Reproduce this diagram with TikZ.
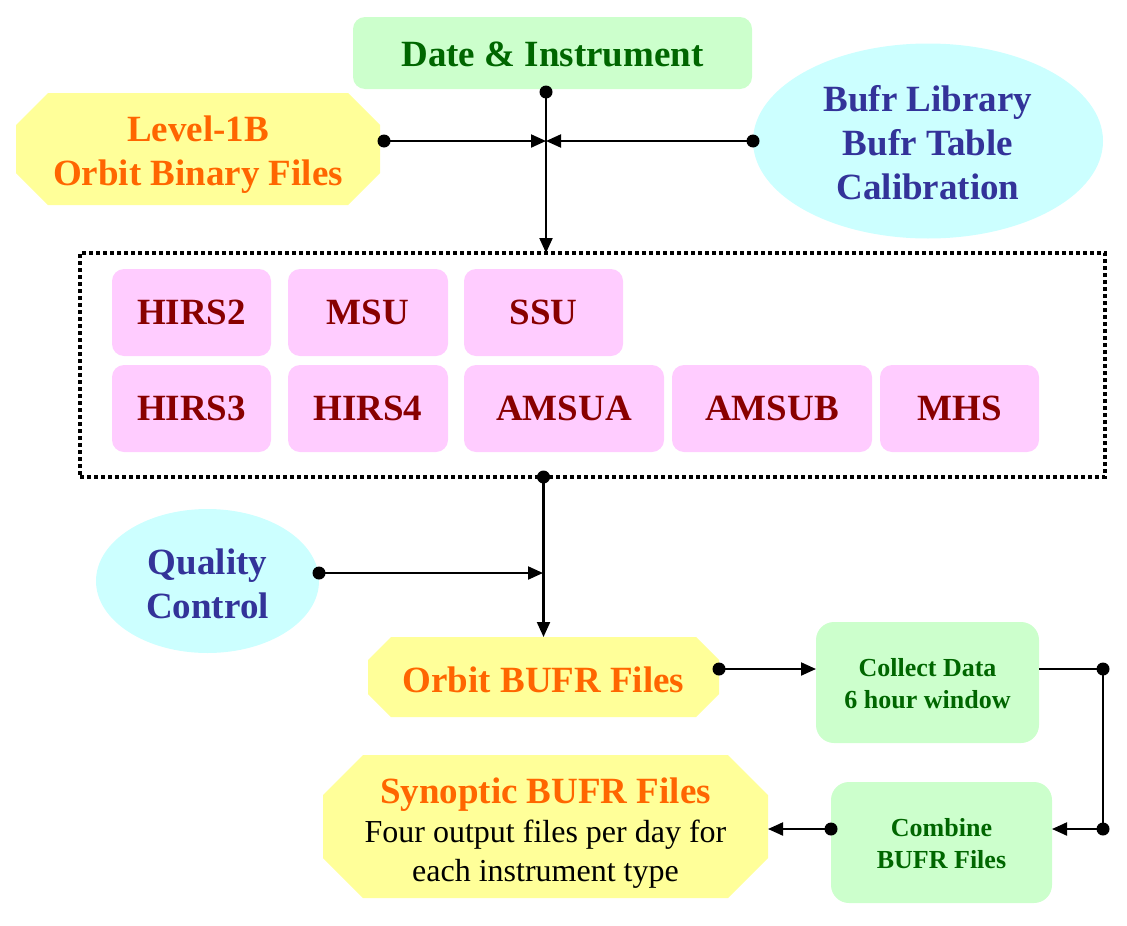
\documentclass[tikz,border=0pt]{standalone}
\usepackage{fontspec}
\setmainfont{Liberation Serif}
\usetikzlibrary{shapes.geometric,arrows.meta,calc,backgrounds}

\definecolor{mintfill}{HTML}{CCFFCC}
\definecolor{leafgreen}{HTML}{006600}
\definecolor{lemon}{HTML}{FFFF99}
\definecolor{tangerine}{HTML}{FF6600}
\definecolor{ice}{HTML}{CCFFFF}
\definecolor{indigoink}{HTML}{333399}
\definecolor{blush}{HTML}{FFCCFF}
\definecolor{maroonink}{HTML}{880000}

% yellow octagon behind a named rectangular node; #2 = corner cut
\newcommand\octfill[2]{%
  \fill[lemon]
    ($(#1.north west)+(#2,0)$) -- ($(#1.north east)+(-#2,0)$) --
    ($(#1.north east)+(0,#2)$) -- ($(#1.south east)+(0,-#2)$) --
    ($(#1.south east)+(-#2,0)$) -- ($(#1.south west)+(#2,0)$) --
    ($(#1.south west)+(0,-#2)$) -- ($(#1.north west)+(0,#2)$) -- cycle;}
% invisible strut that lowers a text block inside its node
\newcommand\dropstrut[1]{\rule{0pt}{#1}}

\begin{document}
\begin{tikzpicture}[x=1pt,y=-1pt,
  every node/.style={inner sep=0pt, outer sep=0pt},
  bigtxt/.style={font=\fontsize{37}{44}\selectfont\bfseries, align=center},
  smalltxt/.style={font=\fontsize{26}{32}\selectfont\bfseries, align=center},
  greenbox/.style={rectangle, fill=mintfill, text=leafgreen},
  instbox/.style={rectangle, rounded corners=12pt, fill=blush, text=maroonink,
                  minimum height=87pt, bigtxt},
  oval/.style={ellipse, fill=ice, text=indigoink, bigtxt},
  filebox/.style={rectangle, text=tangerine},
  groupbox/.style={rectangle, draw=black, line width=3.5pt,
                   dash pattern=on 4pt off 3pt},
  link/.style={line width=2.1pt, -{Triangle[length=15pt,width=13pt]}},
  plain/.style={line width=2.1pt},
  jdot/.style={fill=black}]

\useasboundingbox (0,0) rectangle (1127,926);

% inputs
\node[greenbox, rounded corners=12pt, bigtxt, minimum width=399pt, minimum height=72pt]
  (date) at (552.5,53) {\dropstrut{27pt}Date \& Instrument};
\node[filebox, bigtxt, minimum width=364pt, minimum height=112pt]
  (lvl) at (198,149) {\dropstrut{37pt}Level-1B\\Orbit Binary Files};
\node[oval, minimum width=350pt, minimum height=195pt]
  (bufr) at (928,141) {\dropstrut{29pt}Bufr Library\\Bufr Table\\Calibration};

% instrument group
\node[groupbox, minimum width=1025pt, minimum height=224pt] (group) at (592.5,365) {};
\node[instbox, minimum width=159pt] (hirs2) at (191.5,312.5) {HIRS2};
\node[instbox, minimum width=160pt] (msu)   at (368,312.5)   {MSU};
\node[instbox, minimum width=159pt] (ssu)   at (543.5,312.5) {SSU};
\node[instbox, minimum width=159pt] (hirs3) at (191.5,408.5) {HIRS3};
\node[instbox, minimum width=160pt] (hirs4) at (368,408.5)   {HIRS4};
\node[instbox, minimum width=200pt] (amsua) at (564,408.5)   {AMSUA};
\node[instbox, minimum width=200pt] (amsub) at (772,408.5)   {AMSUB};
\node[instbox, minimum width=159pt] (mhs)   at (959.5,408.5) {MHS};

% processing chain
\node[oval, minimum width=223pt, minimum height=144pt]
  (qc) at (207.5,581) {\dropstrut{31pt}Quality\\Control};
\node[filebox, bigtxt, minimum width=351pt, minimum height=80pt]
  (orbit) at (543.5,677) {\dropstrut{31pt}Orbit BUFR Files};
\node[greenbox, rounded corners=18pt, smalltxt, minimum width=223pt, minimum height=121pt]
  (collect) at (927.5,682.5) {\dropstrut{21pt}Collect Data\\6 hour window};
\node[greenbox, rounded corners=18pt, smalltxt, minimum width=221pt, minimum height=121pt]
  (combine) at (941.5,842.5) {\dropstrut{21pt}Combine\\BUFR Files};
\node[rectangle, minimum width=445pt, minimum height=143pt, text=black,
      font=\fontsize{32}{39}\selectfont, align=center]
  (synop) at (545.5,826.5) {\dropstrut{38pt}{\fontsize{37}{39}\selectfont
     \textcolor{tangerine}{\bfseries Synoptic BUFR Files}}\\
     Four output files per day for\\each instrument type};

\begin{scope}[on background layer]
  \octfill{lvl}{32}
  \octfill{orbit}{23}
  \octfill{synop}{40}
\end{scope}

% junction points
\coordinate (hub) at (546,141);
\coordinate (qcj) at (543,573);
\coordinate (r1) at (1103,669);
\coordinate (r2) at (1103,829);

% connectors
\draw[link] (date.south -| hub) -- (group.north -| hub);
\draw[link] (lvl.east |- hub) ++(4,0) -- (hub);
\draw[link] (bufr.west |- hub) -- (hub);
\draw[link] (group.south -| orbit.north) -- (orbit.north);
\draw[link] (qc.east |- qcj) -- (qcj);
\draw[link] (orbit.east |- r1) -- (collect.west |- r1);
\draw[plain] (collect.east |- r1) -- (r1) -- (r2);
\draw[link] (r2) -- (combine.east |- r2);
\draw[link] (combine.west |- r2) -- (synop.east |- r2);

% connector dots
\fill[jdot] ($(date.south -| hub)+(0,3)$) circle[radius=6.5pt];
\fill[jdot] ($(lvl.east |- hub)+(4,0)$) circle[radius=6.5pt];
\fill[jdot] (bufr.west |- hub) circle[radius=6.5pt];
\fill[jdot] (group.south -| orbit.north) circle[radius=6.5pt];
\fill[jdot] (qc.east |- qcj) circle[radius=6.5pt];
\fill[jdot] (orbit.east |- r1) circle[radius=6.5pt];
\fill[jdot] (r1) circle[radius=6.5pt];
\fill[jdot] (r2) circle[radius=6.5pt];
\fill[jdot] (combine.west |- r2) circle[radius=6.5pt];
\end{tikzpicture}
\end{document}
